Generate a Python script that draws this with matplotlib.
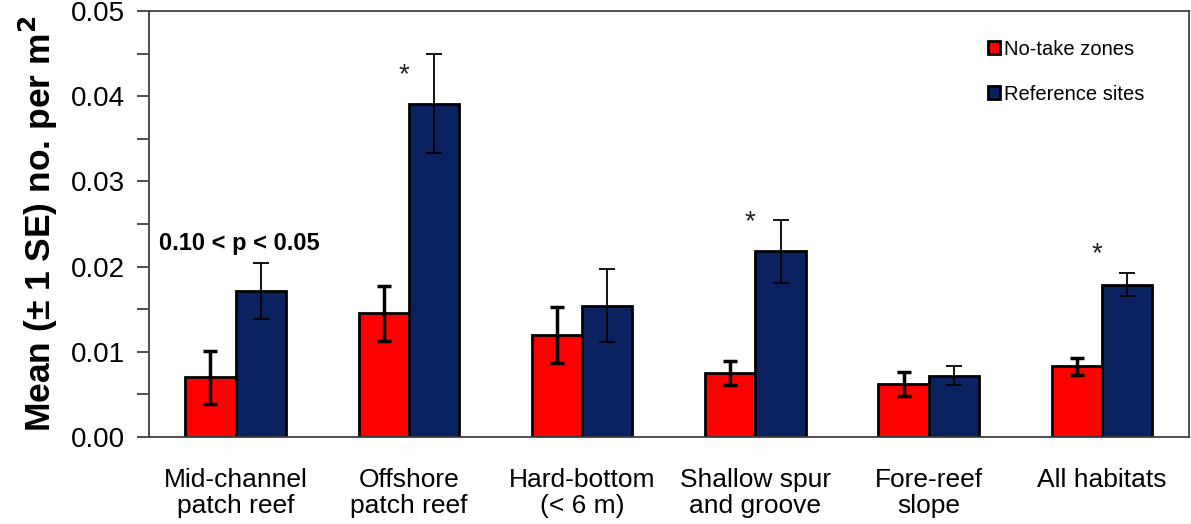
import matplotlib as mpl
mpl.use('Agg')
import matplotlib.pyplot as plt
import numpy as np

plt.rcParams['font.family'] = ['Liberation Sans', 'DejaVu Sans']

habitats = ["Mid-channel\npatch reef", "Offshore\npatch reef", "Hard-bottom\n(< 6 m)",
            "Shallow spur\nand groove", "Fore-reef\nslope", "All habitats"]
no_take = [0.0070, 0.0145, 0.0120, 0.0075, 0.0062, 0.0083]
no_take_se = [0.0031, 0.0032, 0.0033, 0.0014, 0.0014, 0.0010]
reference = [0.0171, 0.0391, 0.0154, 0.0218, 0.0072, 0.0179]
reference_se = [0.0033, 0.0058, 0.0043, 0.0037, 0.0011, 0.0014]

# significance marks (group index, y)
stars = [(1, 0.0425), (3, 0.0252), (5, 0.0214)]

red = '#ff0000'
navy = '#0b2260'

fig = plt.figure(figsize=(11.91, 5.24), dpi=100)
ax = fig.add_axes([0.125, 0.166, 0.873, 0.813])

x = np.arange(len(habitats))
w = 0.29
ax.bar(x - w/2, no_take, w, color=red, edgecolor='black', linewidth=2,
       label='No-take zones', zorder=2)
ax.bar(x + w/2, reference, w, color=navy, edgecolor='black', linewidth=2,
       label='Reference sites', zorder=2)
ax.errorbar(x - w/2, no_take, yerr=no_take_se, fmt='none', ecolor='black',
            elinewidth=2.5, capsize=5, capthick=2.5, zorder=3)
ax.errorbar(x + w/2, reference, yerr=reference_se, fmt='none', ecolor='black',
            elinewidth=1.3, capsize=6, capthick=1.3, zorder=3)

for i, yv in stars:
    ax.text(x[i] - 0.03, yv, '*', ha='center', va='center', fontsize=20,
            color='#222222')

ax.text(-0.44, 0.0227, '0.10 < p < 0.05', fontsize=17, fontweight='bold',
        ha='left', va='center')

ax.set_xlim(-0.5, 5.5)
ax.set_ylim(0, 0.05)
ax.set_yticks(np.arange(0, 0.051, 0.01))
ax.set_yticklabels([f'{v:.2f}' for v in np.arange(0, 0.051, 0.01)])
ax.set_yticks(np.arange(0.005, 0.05, 0.01), minor=True)
ax.set_xticks(x)
ax.set_xticklabels(habitats, fontsize=19, linespacing=1.15)
ax.tick_params(axis='x', length=0, pad=22)
ax.tick_params(axis='y', which='both', length=9, width=1.3, color='#404040',
               labelsize=20, pad=8)
for s in ax.spines.values():
    s.set_color('#404040')
    s.set_linewidth(1.3)

ax.set_ylabel('Mean (± 1 SE) no. per m$^\\mathbf{2}$', fontsize=25.5,
              fontweight='bold', labelpad=8)

ax.legend(loc='upper right', bbox_to_anchor=(0.975, 0.975), frameon=False,
          fontsize=14.5, handlelength=0.6, handleheight=0.6, handletextpad=0.2,
          labelspacing=1.3)

fig.savefig('out.png', dpi=100)
